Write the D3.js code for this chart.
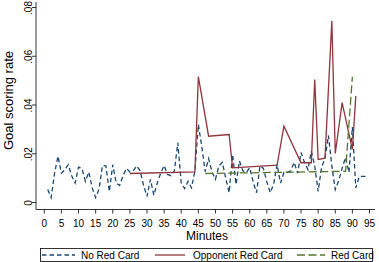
<!DOCTYPE html>
<html>
<head>
<meta charset="utf-8">
<script src="https://cdn.jsdelivr.net/npm/d3@7"></script>
<style>
  body { margin: 0; background: #fff; }
  svg { display: block; font-family: "Liberation Sans", Arial, sans-serif; }
</style>
</head>
<body>
<svg id="chart" width="379" height="262"></svg>
<script>
const W = 379, H = 262;

// No Red Card: goal scoring rate, minutes 1..94
const noRedMinutes = d3.range(1, 95);
const noRedValues = [
  0.0053, 0.002, 0.012, 0.019, 0.012, 0.0135, 0.0155, 0.011, 0.008, 0.0145,
  0.014, 0.0087, 0.0125, 0.006, 0.002, 0.0055, 0.0152, 0.015, 0.0045, 0.0155,
  0.008, 0.007, 0.011, 0.014, 0.0125, 0.013, 0.015, 0.013, 0.007, 0.0025,
  0.0095, 0.003, 0.008, 0.012, 0.0152, 0.0115, 0.011, 0.013, 0.0245, 0.008,
  0.0057, 0.0087, 0.006, 0.013, 0.032, 0.023, 0.0127, 0.018, 0.0125, 0.0095,
  0.015, 0.0165, 0.010, 0.004, 0.0197, 0.0074, 0.017, 0.013, 0.0123, 0.0143,
  0.0085, 0.004, 0.015, 0.014, 0.0085, 0.004, 0.0075, 0.0156, 0.008, 0.0123,
  0.0123, 0.013, 0.0165, 0.012, 0.0205, 0.0165, 0.0135, 0.021, 0.015, 0.0045,
  0.0145, 0.018, 0.0275, 0.015, 0.0053, 0.009, 0.014, 0.0185, 0.0123, 0.031,
  0.006, 0.0107, 0.0107, 0.0107
];

// Opponent Red Card
const oppMinutes = [25, 44, 45, 48, 54, 55, 68, 70, 75, 78, 79, 80, 82, 84, 85, 87, 90, 91];
const oppValues  = [0.0119, 0.0126, 0.0516, 0.0272, 0.0279, 0.0142, 0.0153, 0.0313, 0.0163, 0.0163,
                    0.0505, 0.0177, 0.0182, 0.0745, 0.0201, 0.041, 0.0218, 0.0437];

// Red Card
const redMinutes = [47, 88, 90];
const redValues  = [0.0119, 0.0128, 0.0516];

const xTicks = d3.range(0, 96, 5);
const yTicks = [0, 0.02, 0.04, 0.06, 0.08];
const yTickLabels = ["0", ".02", ".04", ".06", ".08"];

const svg = d3.select("#chart");

const x = d3.scaleLinear().domain([0, 95]).range([44.3, 369.5]);
const y = d3.scaleLinear().domain([0, 0.08]).range([202.5, 7.5]);

const AX_X = 36, AX_Y = 209.5;

// axes lines
svg.append("line")
   .attr("x1", AX_X).attr("x2", AX_X)
   .attr("y1", 2).attr("y2", AX_Y)
   .attr("stroke", "#000").attr("stroke-width", 0.8);
svg.append("line")
   .attr("x1", AX_X).attr("x2", 375)
   .attr("y1", AX_Y).attr("y2", AX_Y)
   .attr("stroke", "#000").attr("stroke-width", 0.8);

// y ticks
svg.append("g")
   .selectAll("line")
   .data(yTicks)
   .enter().append("line")
     .attr("x1", AX_X - 4).attr("x2", AX_X)
     .attr("y1", d => y(d)).attr("y2", d => y(d))
     .attr("stroke", "#000").attr("stroke-width", 0.8);

svg.append("g")
   .selectAll("text")
   .data(yTicks)
   .enter().append("text")
     .attr("transform", d => `translate(31.5,${y(d) + 0.5}) rotate(-90)`)
     .attr("text-anchor", "middle")
     .style("font-size", "10px")
     .text((d, i) => yTickLabels[i]);

// x ticks
svg.append("g")
   .selectAll("line")
   .data(xTicks)
   .enter().append("line")
     .attr("x1", d => x(d)).attr("x2", d => x(d))
     .attr("y1", AX_Y).attr("y2", AX_Y + 4)
     .attr("stroke", "#000").attr("stroke-width", 0.8);

svg.append("g")
   .selectAll("text")
   .data(xTicks)
   .enter().append("text")
     .attr("x", d => x(d))
     .attr("y", 227)
     .attr("text-anchor", "middle")
     .style("font-size", "10px")
     .text(d => d);

// axis titles
svg.append("text")
   .attr("x", 207).attr("y", 240)
   .attr("text-anchor", "middle")
   .style("font-size", "12px")
   .text("Minutes");

svg.append("text")
   .attr("transform", `translate(13,100.5) rotate(-90)`)
   .attr("text-anchor", "middle")
   .style("font-size", "13px")
   .text("Goal scoring rate");

// series
const line = d3.line().x(d => x(d[0])).y(d => y(d[1]));

const series = [
  { name: "No Red Card",         pts: d3.zip(noRedMinutes, noRedValues), color: "#1a476f", dash: "4.5,3" },
  { name: "Opponent Red Card",   pts: d3.zip(oppMinutes, oppValues),     color: "#90353b", dash: null },
  { name: "Red Card",            pts: d3.zip(redMinutes, redValues),     color: "#55752f", dash: "8,3.5" }
];

svg.append("g")
   .selectAll("path")
   .data(series)
   .enter().append("path")
     .attr("d", d => line(d.pts))
     .attr("fill", "none")
     .attr("stroke", d => d.color)
     .attr("stroke-width", 1.3)
     .attr("stroke-dasharray", d => d.dash);

// legend
const lg = svg.append("g");
lg.append("rect")
  .attr("x", 40.5).attr("y", 248.5)
  .attr("width", 332).attr("height", 13)
  .attr("fill", "#fff").attr("stroke", "#000").attr("stroke-width", 0.8);

const legendPos = [
  { x1: 42, x2: 75, tx: 81 },
  { x1: 155, x2: 185, tx: 193 },
  { x1: 297, x2: 325, tx: 331 }
];

series.forEach((s, i) => {
  const p = legendPos[i];
  lg.append("line")
    .attr("x1", p.x1).attr("x2", p.x2)
    .attr("y1", 255).attr("y2", 255)
    .attr("stroke", s.color).attr("stroke-width", 1.3)
    .attr("stroke-dasharray", s.dash);
  lg.append("text")
    .attr("x", p.tx).attr("y", 258.6)
    .style("font-size", "10px")
    .text(s.name);
});
</script>
</body>
</html>
